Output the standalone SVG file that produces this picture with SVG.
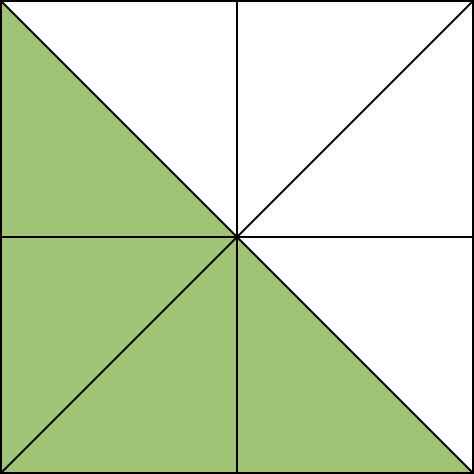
<svg xmlns="http://www.w3.org/2000/svg" width="474" height="474" viewBox="0 0 474 474">
<style>
.g{fill:#a0c475;stroke:none}
.l{stroke:#000;stroke-width:2;fill:none}
</style>
<rect width="474" height="474" fill="#fff"/>
<g id="fills">
<polygon class="g" points="1,1 237,237 1,237"/>
<polygon class="g" points="1,237 237,237 237,473 1,473"/>
<polygon class="g" points="237,237 473,473 237,473"/>
</g>
<g id="lines">
<rect class="l" x="1" y="1" width="472" height="472"/>
<line class="l" x1="237" y1="1" x2="237" y2="473"/>
<line class="l" x1="1" y1="237" x2="473" y2="237"/>
<line class="l" x1="1" y1="1" x2="473" y2="473"/>
<line class="l" x1="1" y1="473" x2="473" y2="1"/>
</g>
</svg>
